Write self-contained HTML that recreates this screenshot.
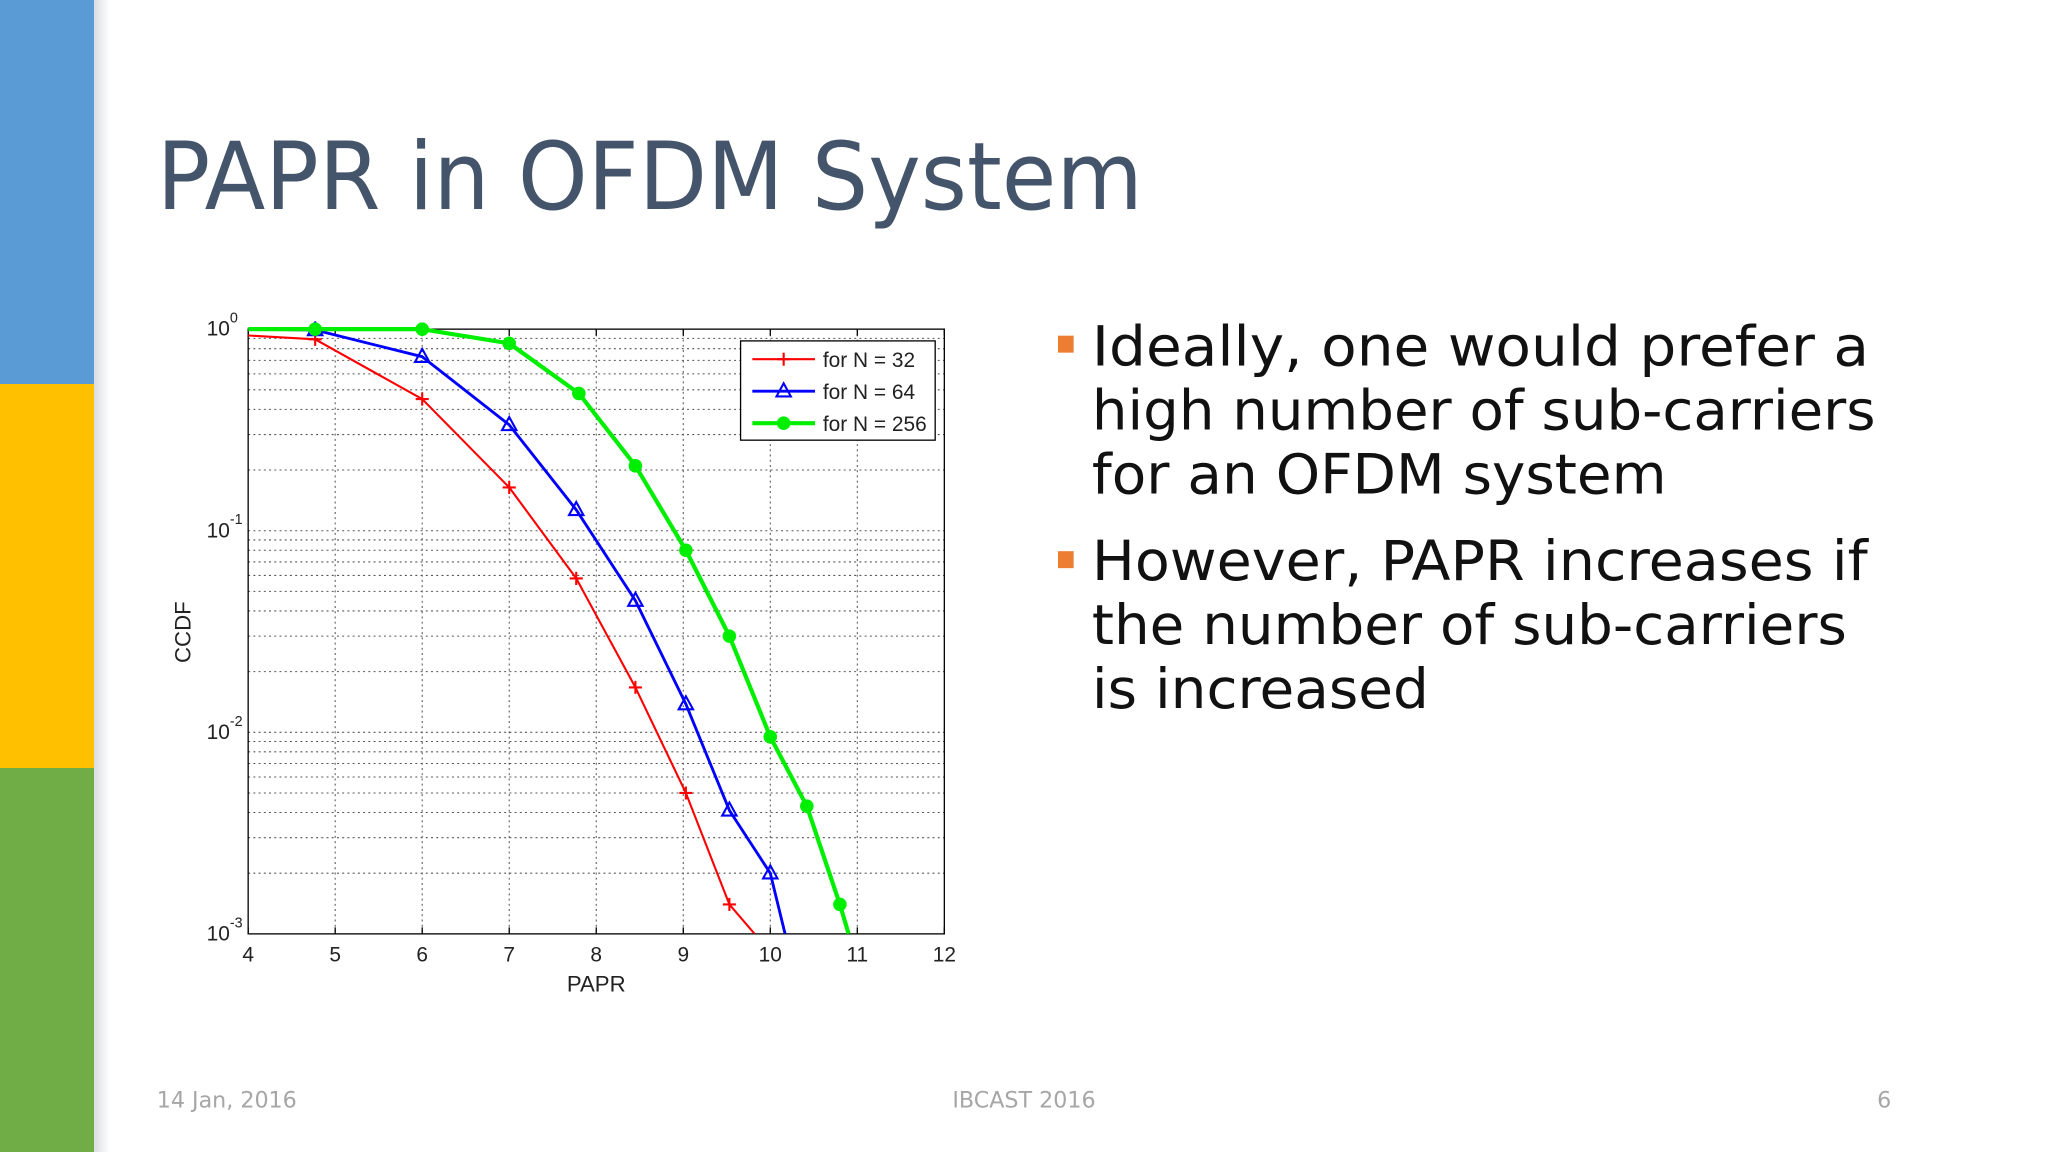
<!DOCTYPE html>
<html><head><meta charset="utf-8"><style>
html,body{margin:0;padding:0;background:#fff;}
svg{display:block;}
</style></head><body>
<svg id="slide" width="2048" height="1152" viewBox="0 0 1568 882" xmlns="http://www.w3.org/2000/svg" font-family="'Liberation Sans', sans-serif">
<defs><linearGradient id="sh" x1="0" x2="1"><stop offset="0" stop-color="#d8dde3"/><stop offset="1" stop-color="#ffffff"/></linearGradient></defs>
<rect x="0" y="0" width="72" height="294" fill="#5b9bd5"/>
<rect x="0" y="294" width="72" height="294" fill="#ffc000"/>
<rect x="0" y="588" width="72" height="294" fill="#70ad47"/>
<rect x="72" y="0" width="12" height="882" fill="url(#sh)"/>
<text x="120" y="160" font-size="72" fill="#44546a" font-family="'DejaVu Sans', sans-serif" textLength="755" lengthAdjust="spacingAndGlyphs">PAPR in OFDM System</text>
<g font-family="'DejaVu Sans', sans-serif" font-size="42" fill="#111">
<rect x="810" y="257" width="12" height="13" fill="#ed7d31"/>
<text x="836" y="280" textLength="595" lengthAdjust="spacingAndGlyphs">Ideally, one would prefer a</text>
<text x="836" y="329" textLength="600" lengthAdjust="spacingAndGlyphs">high number of sub-carriers</text>
<text x="836" y="378" textLength="440" lengthAdjust="spacingAndGlyphs">for an OFDM system</text>
<rect x="810" y="422" width="12" height="13" fill="#ed7d31"/>
<text x="836" y="444" textLength="594" lengthAdjust="spacingAndGlyphs">However, PAPR increases if</text>
<text x="836" y="493" textLength="578" lengthAdjust="spacingAndGlyphs">the number of sub-carriers</text>
<text x="836" y="542" textLength="258" lengthAdjust="spacingAndGlyphs">is increased</text>
</g>
<g font-family="'DejaVu Sans', sans-serif" font-size="17" fill="#a6a6a6">
<text x="120" y="848">14 Jan, 2016</text>
<text x="784" y="848" text-anchor="middle">IBCAST 2016</text>
<text x="1448" y="848" text-anchor="end">6</text>
</g>
<g id="chart"></g>
</svg>
<script>
const xTicks = [4,5,6,7,8,9,10,11,12];
const yDecades = [0,-1,-2,-3];
const seriesNames = ["for N = 32","for N = 64","for N = 256"];
const redX = [4,4.77,6,7,7.77,8.45,9.03,9.53,9.82];
const redY = [0.93,0.89,0.45,0.164,0.058,0.0167,0.005,0.0014,0.001];
const blueX = [4,4.77,6,7,7.77,8.45,9.03,9.53,10,10.17];
const blueY = [1.0,0.99,0.73,0.335,0.127,0.045,0.0138,0.0041,0.002,0.001];
const greenX = [4,4.77,6,7,7.8,8.45,9.03,9.53,10,10.42,10.8,10.9];
const greenY = [1.0,1.0,1.0,0.85,0.48,0.21,0.08,0.030,0.0095,0.0043,0.0014,0.001];

const NS="http://www.w3.org/2000/svg";
const L=190,R=723,T=252,B=715;
const sx=v=>L+(v-4)/(12-4)*(R-L);
const sy=v=>T+(0-Math.log10(v))/3*(B-T);
const g=document.getElementById('chart');
function mk(tag,attrs,parent){const e=document.createElementNS(NS,tag);for(const k in attrs)e.setAttribute(k,attrs[k]);(parent||g).appendChild(e);return e;}

// grid
const grid=mk('g',{stroke:'#555','stroke-width':0.8,'stroke-dasharray':'1.5,2.5',fill:'none'});


xTicks.slice(1,-1).forEach(t=>{const l=mk('line',{x1:sx(t),x2:sx(t),y1:T,y2:B},grid);

});
for(let d=-3;d<0;d++){for(let m=1;m<=9;m++){const v=m*Math.pow(10,d);if(m===1&&d===-3)continue;const l=mk('line',{x1:L,x2:R,y1:sy(v),y2:sy(v)},grid);

}}

// axes box
const box=mk('rect',{x:L,y:T,width:R-L,height:B-T,fill:'none',stroke:'#000','stroke-width':1});



// ticks & labels
xTicks.forEach(t=>{
 mk('line',{x1:sx(t),x2:sx(t),y1:B,y2:B-5,stroke:'#000'});mk('line',{x1:sx(t),x2:sx(t),y1:T,y2:T+5,stroke:'#000'});
 const tx=mk('text',{x:sx(t),y:B+21,'font-size':16,'text-anchor':'middle',fill:'#222'});tx.textContent=t;
 
 
});
yDecades.forEach(d=>{
 const y=sy(Math.pow(10,d));
 const tx=mk('text',{x:176,y:y+5,'font-size':16,'text-anchor':'end',fill:'#222'});tx.textContent='10';
 
 
 const ex=mk('text',{x:176,y:y-5,'font-size':11,fill:'#222'});ex.textContent=d===0?'0':String(d);
 
 
});
const xt=mk('text',{x:(L+R)/2,y:759,'font-size':17,'text-anchor':'middle',fill:'#222'});xt.textContent='PAPR';


const yt=mk('text',{x:0,y:0,'font-size':17,'text-anchor':'middle',fill:'#222',transform:'translate(146,484) rotate(-90)'});yt.textContent='CCDF';



// clip
const cp=mk('clipPath',{id:'plotclip'});mk('rect',{x:L,y:T-6,width:R-L,height:B-T+6},cp);

function marker(parent,type,x,y,color){
 if(type==='plus'){mk('path',{d:`M${x-5} ${y}H${x+5}M${x} ${y-5}V${y+5}`,stroke:color,'stroke-width':1.6,fill:'none'},parent);}
 else if(type==='tri'){mk('path',{d:`M${x} ${y-6}L${x+5.5} ${y+4}L${x-5.5} ${y+4}Z`,stroke:color,'stroke-width':1.6,fill:'none'},parent);}
 else {mk('circle',{cx:x,cy:y,r:4.2,stroke:color,'stroke-width':2,fill:color},parent);}
}
const series=[[redX,redY,'#ff0000','plus',1.6,'series-n32'],[blueX,blueY,'#0000ff','tri',2.2,'series-n64'],[greenX,greenY,'#00ee00','circ',3.2,'series-n256']];
series.forEach(([xs,ys,c,mt,w,name])=>{
 const sg=mk('g',{'clip-path':'url(#plotclip)'});
 
 
 const pts=xs.map((x,i)=>sx(x)+','+sy(ys[i])).join(' ');
 const pl=mk('polyline',{points:pts,fill:'none',stroke:c,'stroke-width':w,'stroke-linejoin':'round'},sg);
 
 
 for(let i=1;i<xs.length-1;i++)marker(sg,mt,sx(xs[i]),sy(ys[i]),c);
});

// legend
const lg=mk('g',{});


mk('rect',{x:567,y:261,width:149,height:76,fill:'#fff',stroke:'#000','stroke-width':1},lg);
series.forEach(([xs,ys,c,mt,w,name],i)=>{
 const y=275+i*24.5;
 const eg=mk('g',{},lg);
 
 
 mk('line',{x1:576,x2:624,y1:y,y2:y,stroke:c,'stroke-width':w},eg);
 marker(eg,mt,600,y,c);
 const t=mk('text',{x:630,y:y+6,'font-size':16,fill:'#222'},eg);t.textContent=seriesNames[i];
});
</script>
</body></html>
